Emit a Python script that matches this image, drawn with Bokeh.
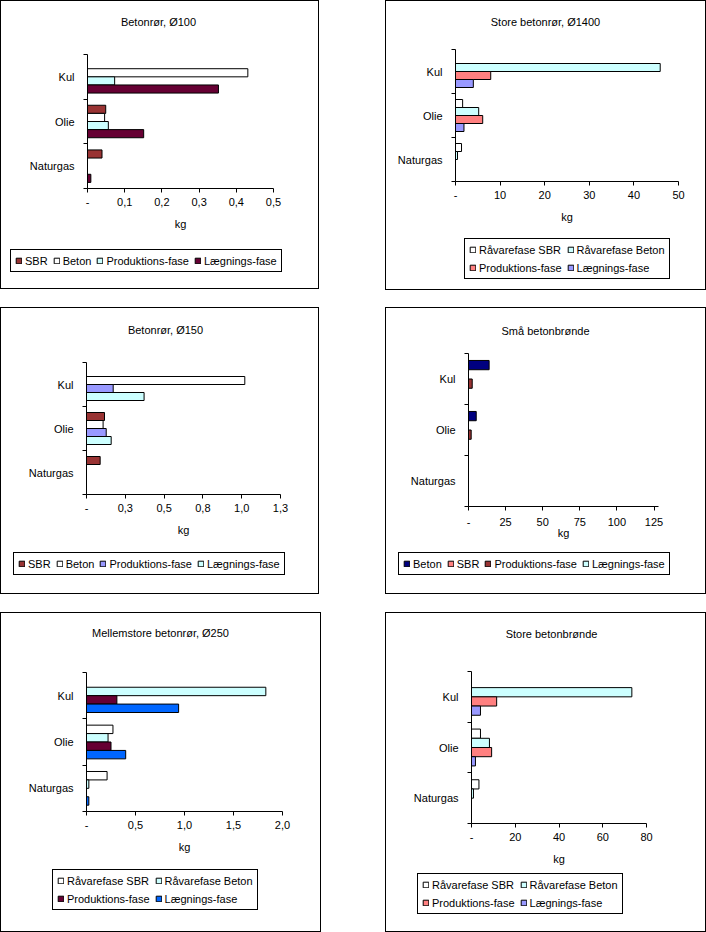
from bokeh.plotting import figure
from bokeh.models import (Range1d, FixedTicker, CustomJSTickFormatter, Legend, Label,
                          LegendItem, ColumnDataSource, Spacer)
from bokeh.layouts import row, column
from bokeh.embed import file_html
from bokeh.resources import INLINE
from bokeh.core.properties import value

# ---------------- data ----------------
CATEGORIES = ["Kul", "Olie", "Naturgas"]          # top to bottom

# Panel 1
P1_TITLE = "Betonrør, Ø100"
P1_SERIES = ["SBR", "Beton", "Produktions-fase", "Lægnings-fase"]
P1_SBR = [0.0, 0.049, 0.039]
P1_BETON = [0.431, 0.046, 0.0]
P1_PROD = [0.073, 0.056, 0.0]
P1_LAEG = [0.352, 0.151, 0.009]
P1_XTICKS = [0, 0.1, 0.2, 0.3, 0.4, 0.5]
P1_XLABELS = ["-", "0,1", "0,2", "0,3", "0,4", "0,5"]

# Panel 2
P2_TITLE = "Store betonrør, Ø1400"
P2_SERIES = ["Råvarefase SBR", "Råvarefase Beton", "Produktions-fase", "Lægnings-fase"]
P2_SBR = [0.0, 1.6, 1.35]
P2_BETON = [45.9, 5.2, 0.45]
P2_PROD = [7.9, 6.1, 0.0]
P2_LAEG = [4.0, 1.9, 0.0]
P2_XTICKS = [0, 10, 20, 30, 40, 50]
P2_XLABELS = ["-", "10", "20", "30", "40", "50"]

# Panel 3
P3_TITLE = "Betonrør, Ø150"
P3_SERIES = ["SBR", "Beton", "Produktions-fase", "Lægnings-fase"]
P3_SBR = [0.0, 0.116, 0.088]
P3_BETON = [1.02, 0.107, 0.0]
P3_PROD = [0.172, 0.127, 0.0]
P3_LAEG = [0.371, 0.159, 0.0]
P3_XTICKS = [0, 0.25, 0.5, 0.75, 1.0, 1.25]
P3_XLABELS = ["-", "0,3", "0,5", "0,8", "1,0", "1,3"]

# Panel 4
P4_TITLE = "Små betonbrønde"
P4_SERIES = ["Beton", "SBR", "Produktions-fase", "Lægnings-fase"]
P4_BETON = [13.9, 5.2, 0.0]
P4_SBR = [0.0, 0.0, 0.0]
P4_PROD = [2.5, 1.8, 0.0]
P4_LAEG = [0.0, 0.0, 0.0]
P4_XTICKS = [0, 25, 50, 75, 100, 125]
P4_XLABELS = ["-", "25", "50", "75", "100", "125"]
P4_XMAX = 128

# Panel 5
P5_TITLE = "Mellemstore betonrør, Ø250"
P5_SERIES = ["Råvarefase SBR", "Råvarefase Beton", "Produktions-fase", "Lægnings-fase"]
P5_SBR = [0.0, 0.27, 0.21]
P5_BETON = [1.83, 0.22, 0.024]
P5_PROD = [0.31, 0.25, 0.0]
P5_LAEG = [0.94, 0.40, 0.024]
P5_XTICKS = [0, 0.5, 1.0, 1.5, 2.0]
P5_XLABELS = ["-", "0,5", "1,0", "1,5", "2,0"]

# Panel 6
P6_TITLE = "Store betonbrønde"
P6_SERIES = ["Råvarefase SBR", "Råvarefase Beton", "Produktions-fase", "Lægnings-fase"]
P6_SBR = [0.0, 4.1, 3.4]
P6_BETON = [73.3, 8.2, 0.9]
P6_PROD = [11.5, 9.2, 0.0]
P6_LAEG = [4.1, 1.8, 0.0]
P6_XTICKS = [0, 20, 40, 60, 80]
P6_XLABELS = ["-", "20", "40", "60", "80"]

# ---------------- styles ----------------
FONT = "Liberation Sans"
FS = "11px"
C1 = ["#993333", "#FFFFFF", "#CCFFFF", "#660033"]
C2 = ["#FFFFFF", "#CCFFFF", "#FF8080", "#9999FF"]
C3 = ["#993333", "#FFFFFF", "#9999FF", "#CCFFFF"]
C4 = ["#000080", "#FF8080", "#993333", "#CCFFFF"]
C5 = ["#FFFFFF", "#CCFFFF", "#660033", "#0066FF"]
C6 = ["#FFFFFF", "#CCFFFF", "#FF8080", "#9999FF"]

NCAT = len(CATEGORIES)
BAR = 1 / 5.5

TICK_JS = """
let best = 0;
for (let i = 1; i < tv.length; i++) {
  if (Math.abs(tv[i] - tick) < Math.abs(tv[best] - tick)) best = i;
}
return labs[best];
"""


def blank_fig(w, h):
    f = figure(width=w, height=h, output_backend="svg", toolbar_location=None,
               x_axis_location=None, y_axis_location=None,
               x_range=Range1d(0, 1), y_range=Range1d(0, 1),
               min_border_left=0, min_border_right=0, min_border_top=0, min_border_bottom=0)
    try:
        f.frame_align = False
    except Exception:
        pass
    f.grid.visible = False
    f.outline_line_color = None
    f.background_fill_color = "white"
    f.border_fill_color = "white"
    return f


def make_panel(title, series, values, colors, xticks, xlabels, xmax,
               box, frame, title_c, legend_lt, legend_bottom, ncols,
               tick_standoff, label_standoff):
    PL, PT, W, H = box
    L, R, T, B = frame
    title_h = T - 5 - PT
    main_top = PT + title_h
    split2 = legend_lt[1] - 5
    main_h = split2 - main_top
    leg_h = PT + H - split2

    # ---- title strip ----
    tf = blank_fig(W, title_h)
    tf.add_layout(Label(x=title_c[0] - PL, y=main_top - title_c[1], x_units="screen",
                        y_units="screen", text=title, text_align="center",
                        text_baseline="middle", text_font=FONT, text_font_size=FS,
                        text_color="black"))

    # ---- main chart ----
    p = figure(width=W, height=main_h, output_backend="svg", toolbar_location=None,
               x_range=Range1d(0, xmax), y_range=Range1d(0, NCAT),
               min_border_left=L - PL, min_border_right=W - (R - PL),
               min_border_top=T - main_top, min_border_bottom=main_h - (B - main_top))
    try:
        p.frame_align = False
    except Exception:
        pass
    p.xgrid.visible = False
    p.ygrid.visible = False
    p.outline_line_color = None
    p.background_fill_color = "white"
    p.border_fill_color = "white"

    # ---- legend strip ----
    lf = blank_fig(W, leg_h)

    items = []
    for j, (name, vals, col) in enumerate(zip(series, values, colors)):
        ys = [(NCAT - 1 - k) + 0.5 + (1.5 - j) * BAR for k in range(NCAT)]
        src = ColumnDataSource(dict(y=ys, right=vals))
        p.hbar(y="y", left=0, right="right", height=BAR, fill_color=col,
               line_color="black", line_width=1, source=src)
        # legend swatch renderer (same style, parked outside the strip's range)
        lr = lf.hbar(y=[-5], left=0, right=[0.1], height=BAR, fill_color=col,
                     line_color="black", line_width=1)
        items.append(LegendItem(label=value(name), renderers=[lr]))

    xa = p.xaxis[0]
    xa.ticker = FixedTicker(ticks=xticks)
    xa.formatter = CustomJSTickFormatter(args=dict(tv=xticks, labs=xlabels), code=TICK_JS)
    xa.major_tick_out = 4
    xa.major_tick_in = 0
    xa.minor_tick_out = 0
    xa.minor_tick_in = 0
    xa.axis_line_color = "black"
    xa.major_tick_line_color = "black"
    xa.major_label_text_font = FONT
    xa.major_label_text_font_size = FS
    xa.major_label_text_color = "black"
    xa.major_label_standoff = tick_standoff
    xa.axis_label = "kg"
    xa.axis_label_text_font = FONT
    xa.axis_label_text_font_size = FS
    xa.axis_label_text_font_style = "normal"
    xa.axis_label_text_color = "black"
    xa.axis_label_standoff = label_standoff

    ycenters = [i + 0.5 for i in range(NCAT)]
    ylabels = list(reversed(CATEGORIES))
    ya = p.yaxis[0]
    ya.ticker = FixedTicker(ticks=ycenters, minor_ticks=list(range(NCAT + 1)))
    ya.formatter = CustomJSTickFormatter(args=dict(tv=ycenters, labs=ylabels), code=TICK_JS)
    ya.major_tick_out = 0
    ya.major_tick_in = 0
    ya.minor_tick_out = 4
    ya.minor_tick_in = 0
    ya.minor_tick_line_color = "black"
    ya.axis_line_color = "black"
    ya.major_label_text_font = FONT
    ya.major_label_text_font_size = FS
    ya.major_label_text_color = "black"
    ya.major_label_standoff = 9

    leg = Legend(items=items, location=(legend_lt[0] - PL, PT + H - legend_bottom),
                 orientation="horizontal",
                 border_line_color="black", border_line_width=1, border_line_alpha=1,
                 background_fill_color="white", background_fill_alpha=1,
                 padding=4, spacing=5, margin=0, label_standoff=3,
                 glyph_width=7, glyph_height=7, label_height=13,
                 label_text_font=FONT, label_text_font_size=FS, label_text_color="black")
    if ncols:
        leg.ncols = ncols
    lf.add_layout(leg)

    return column(tf, p, lf, styles={"outline": "1px solid black", "outline-offset": "0px",
                                     "background-color": "white"})


p1 = make_panel(P1_TITLE, P1_SERIES, [P1_SBR, P1_BETON, P1_PROD, P1_LAEG], C1,
                P1_XTICKS, P1_XLABELS, P1_XTICKS[-1],
                (1, 1, 317, 287), (87, 273, 54, 188), (158, 21), (10, 251), 272, None, 5, 9)
p2 = make_panel(P2_TITLE, P2_SERIES, [P2_SBR, P2_BETON, P2_PROD, P2_LAEG], C2,
                P2_XTICKS, P2_XLABELS, P2_XTICKS[-1],
                (386, 1, 319, 288), (455, 678, 49, 181), (545, 21), (464, 239), 279, 2, 5, 9)
p3 = make_panel(P3_TITLE, P3_SERIES, [P3_SBR, P3_BETON, P3_PROD, P3_LAEG], C3,
                P3_XTICKS, P3_XLABELS, P3_XTICKS[-1],
                (1, 308, 317, 285), (86, 280, 362, 494), (165, 329), (13, 554), 575, None, 5, 9)
p4 = make_panel(P4_TITLE, P4_SERIES, [P4_BETON, P4_SBR, P4_PROD, P4_LAEG], C4,
                P4_XTICKS, P4_XLABELS, P4_XMAX,
                (386, 308, 319, 285), (468, 658, 353, 506), (545, 330), (398, 553), 575, None, 7, -2)
p5 = make_panel(P5_TITLE, P5_SERIES, [P5_SBR, P5_BETON, P5_PROD, P5_LAEG], C5,
                P5_XTICKS, P5_XLABELS, P5_XTICKS[-1],
                (1, 613, 319, 318), (86, 282, 672, 811), (160, 632), (52, 873), 910, 2, 5, 9)
p6 = make_panel(P6_TITLE, P6_SERIES, [P6_SBR, P6_BETON, P6_PROD, P6_LAEG], C6,
                P6_XTICKS, P6_XLABELS, P6_XTICKS[-1],
                (386, 613, 319, 318), (471, 646, 671, 823), (551, 633), (417, 874), 914, 2, 5, 9)

layout = column(
    Spacer(width=1, height=1),
    row(Spacer(width=1, height=1), p1, Spacer(width=68, height=1), p2),
    Spacer(width=1, height=19),
    row(Spacer(width=1, height=1), p3, Spacer(width=68, height=1), p4),
    Spacer(width=1, height=20),
    row(Spacer(width=1, height=1), p5, Spacer(width=66, height=1), p6),
)

open("out.html", "w").write(file_html(layout, INLINE))
